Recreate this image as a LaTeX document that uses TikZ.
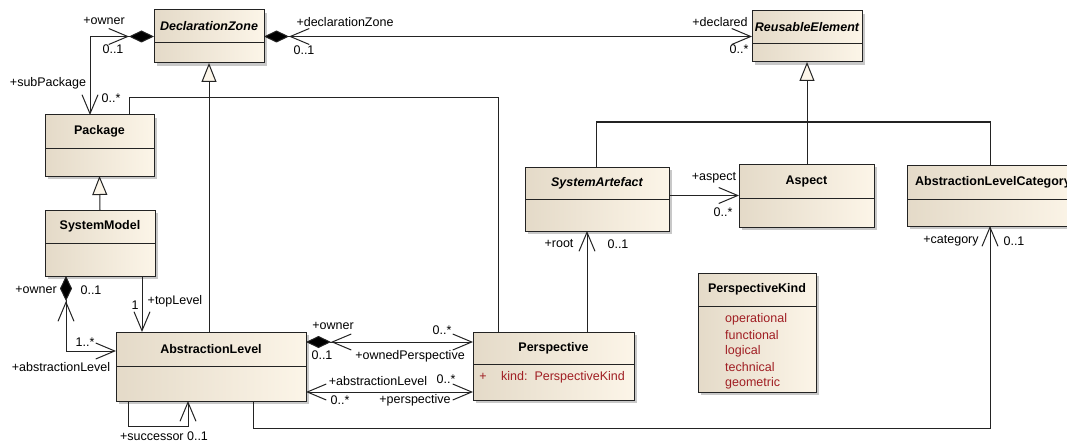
\documentclass[tikz,border=0pt]{standalone}
\usepackage{fontspec}
\setmainfont{Liberation Sans}
\usetikzlibrary{arrows.meta,shadows}

\definecolor{boxL}{RGB}{228,218,200}
\definecolor{boxR}{RGB}{252,245,232}
\definecolor{edgeclr}{RGB}{35,35,35}
\definecolor{enumred}{RGB}{160,30,35}
\definecolor{shadowclr}{RGB}{200,200,200}
\definecolor{trifill}{RGB}{252,246,234}

\newcommand{\lblsize}{\fontsize{12.5}{14}\selectfont}

% class box: name, x1, y1, x2, y2, y of divider, title
\newcommand{\umlbox}[7]{%
  \pgfmathsetmacro{\umlW}{#4-#2}%
  \pgfmathsetmacro{\umlH}{#5-#3}%
  \pgfmathsetmacro{\umlT}{(#3+#6)/2}%
  \node[classbox, minimum width=\umlW pt, minimum height=\umlH pt] (#1) at (#2,#3) {};
  \draw[edge] (#1.west |- 0,#6) -- (#1.east |- 0,#6);
  \node[titletext] (#1-title) at (#1.north |- 0,\umlT) {#7};
}

\begin{document}
\begin{tikzpicture}[x=1pt,y=-1pt,
  classbox/.style={anchor=north west, inner sep=0pt, outer sep=0pt,
    draw=edgeclr, line width=1pt, left color=boxL, right color=boxR,
    drop shadow={shadow xshift=3pt, shadow yshift=-3pt, fill=shadowclr, opacity=1}},
  edge/.style={draw=edgeclr, line width=1pt},
  titletext/.style={font=\bfseries\lblsize, inner sep=0pt},
  lbl/.style={font=\lblsize, inner sep=0pt},
  enum/.style={font=\lblsize, inner sep=0pt, text=enumred, anchor=west},
  barb/.tip={Straight Barb[length=19pt,width=16pt,sep=0pt]},
  comp/.tip={Diamond[length=25pt,width=12pt,fill=black,sep=0pt]},
  gent/.tip={Triangle[length=19pt,width=15pt,fill=trifill]},
]
\clip (0,0) rectangle (1067,441);
\fill[white] (0,0) rectangle (1067,441);

% classes
\umlbox{dz}{154}{10}{264}{63}{43}{\itshape DeclarationZone}
\umlbox{re}{752}{11}{862}{62}{44}{\itshape ReusableElement}
\umlbox{pkg}{45}{115}{154}{176}{148}{Package}
\umlbox{sm}{45}{210}{155}{276}{243}{SystemModel}
\umlbox{sa}{525}{167}{669}{231}{199}{\itshape SystemArtefact}
\umlbox{asp}{739}{164}{874}{227}{198}{Aspect}
\umlbox{alc}{907}{165}{1079}{226}{199}{AbstractionLevelCategory}
\umlbox{pk}{698}{273}{816}{392}{306}{PerspectiveKind}
\umlbox{al}{116}{332}{306}{401}{366}{AbstractionLevel}
\umlbox{per}{473}{332}{634}{400}{364}{Perspective}

% attribute and enumeration literals
\node[lbl, text=enumred] (per-plus) at (483,377) {+};
\node[enum] (per-kind) at (501,377) {kind:~~PerspectiveKind};
\node[enum] (pk-1) at (725,319) {operational};
\node[enum] (pk-2) at (725,335) {functional};
\node[enum] (pk-3) at (725,351) {logical};
\node[enum] (pk-4) at (725,367) {technical};
\node[enum] (pk-5) at (725,383) {geometric};

% generalizations
\draw[edge, -{gent[]}] (al.north -| dz.south) -- (dz.south);
\draw[edge] (pkg.north -| 129,0) -- (129,98) -- (498,98) -- (per.north -| 498,0);
\draw[edge, -{gent[]}] (sm.north) -- (pkg.south);
\coordinate (rejoin) at (807,122);
\draw[edge, -{gent[]}] (rejoin) -- (re.south);
\draw[edge] (sa.north -| 596,0) -- (596,122) -- (990,122) -- (alc.north -| 990,0);
\draw[edge] (asp.north -| rejoin) -- (rejoin);

% associations
\draw[edge, {barb[]}-{barb[] comp[]}] (pkg.north -| 90,0) |- (dz.west);
\draw[edge, {barb[]}-{barb[] comp[]}] (re.west |- dz.east) -- (dz.east);
\draw[edge, -{barb[]}] (sa.east |- asp.west) -- (asp.west);
\draw[edge, -{barb[]}] (per.north -| 587,0) -- (sa.south -| 587,0);
\draw[edge, -{barb[]}] (al.south -| 253,0) -- (253,428) -- (990,428) -- (alc.south -| 990,0);
\draw[edge, {barb[]}-{barb[] comp[]}] (al.west |- 0,351) -- (66,351) -- (sm.south -| 66,0);
\draw[edge, -{barb[]}] (sm.south -| 142,0) -- (al.north -| 142,0);
\draw[edge, {barb[]}-{barb[] comp[]}] (per.west |- 0,342) -- (al.east |- 0,342);
\draw[edge, {barb[]}-{barb[]}] (per.west |- 0,392) -- (al.east |- 0,392);
\draw[edge, -{barb[]}] (al.south -| 128,0) -- (128,426) -- (188,426) -- (al.south -| 188,0);

% association end labels
\node[lbl] (l-dzowner) at (104,21) {+owner};
\node[lbl] (l-dzowner-m) at (113,49) {0..1};
\node[lbl] (l-subpkg) at (48,83) {+subPackage};
\node[lbl] (l-subpkg-m) at (111,98) {0..*};
\node[lbl] (l-dzdecl) at (345,22) {+declarationZone};
\node[lbl] (l-dzdecl-m) at (304,50) {0..1};
\node[lbl] (l-declared) at (720,22) {+declared};
\node[lbl] (l-declared-m) at (739,49) {0..*};
\node[lbl] (l-aspect) at (714,178) {+aspect};
\node[lbl] (l-aspect-m) at (723,212) {0..*};
\node[lbl] (l-root) at (559,244) {+root};
\node[lbl] (l-root-m) at (618,244) {0..1};
\node[lbl] (l-cat) at (951,241) {+category};
\node[lbl] (l-cat-m) at (1014,241) {0..1};
\node[lbl] (l-smowner) at (36,290) {+owner};
\node[lbl] (l-smowner-m) at (91,290) {0..1};
\node[lbl] (l-top-m) at (135,305) {1};
\node[lbl] (l-top) at (175,301) {+topLevel};
\node[lbl] (l-al-m) at (85,342) {1..*};
\node[lbl] (l-al) at (61,367) {+abstractionLevel};
\node[lbl] (l-succ) at (164,436) {+successor 0..1};
\node[lbl] (l-alowner) at (333,326) {+owner};
\node[lbl] (l-alowner-m) at (322,355) {0..1};
\node[lbl] (l-owned-m) at (442,330) {0..*};
\node[lbl] (l-owned) at (410,356) {+ownedPerspective};
\node[lbl] (l-absl) at (378,381) {+abstractionLevel};
\node[lbl] (l-absl-m) at (446,379) {0..*};
\node[lbl] (l-persp-m) at (340,400) {0..*};
\node[lbl] (l-persp) at (415,400) {+perspective};
\end{tikzpicture}
\end{document}
